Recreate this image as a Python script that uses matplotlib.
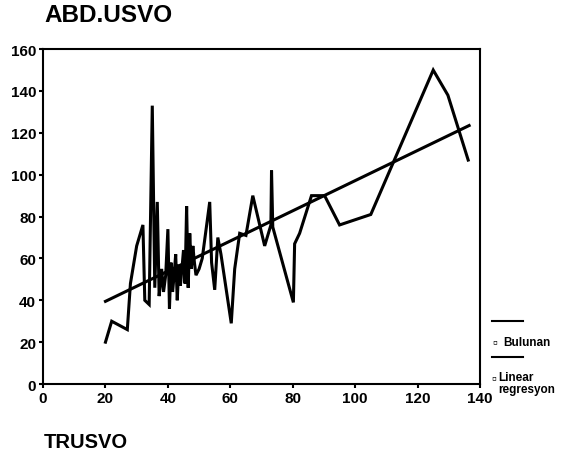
import matplotlib
matplotlib.use("Agg")
import matplotlib.pyplot as plt
from matplotlib.lines import Line2D

plt.rcParams['font.family'] = ['Liberation Sans', 'DejaVu Sans']

# Gözlenen değerler (TRUSVO - ABD.USVO)
trusvo = [20, 22, 27, 28, 30, 32, 32.6, 34, 35, 35.8, 36.6, 37.2, 38, 38.6,
          39.3, 40, 40.5, 41, 41.5, 42, 42.5, 43, 43.5, 44, 44.5, 45, 45.5,
          46, 46.5, 47, 47.5, 48, 48.5, 49, 50, 51, 53.4, 54, 55, 56, 57,
          60.3, 61.4, 63, 65, 67.2, 71, 73, 73.2, 73.6, 80.2, 80.6, 82.2,
          86, 90.2, 95, 105, 125, 129.7, 136.2]
abd_usvo = [20, 30, 26, 48, 66, 76, 40, 38, 133, 46, 87, 42, 55, 44,
            52, 74, 36, 58, 44, 52, 62, 40, 57, 47, 55, 64, 48,
            85, 46, 72, 55, 66, 58, 52, 55, 60, 87, 58, 45, 70, 62,
            29, 55, 72, 71, 90, 66, 76, 102, 75, 39, 67, 72,
            90, 90, 76, 81, 150, 138, 107]

# Doğrusal regresyon çizgisi (uç noktalar)
reg_x = [20, 136.5]
reg_y = [39.5, 123.5]

fig = plt.figure(figsize=(5.87, 4.60), dpi=100)
ax = fig.add_axes([0.0733, 0.163, 0.7445, 0.728])

ax.plot(trusvo, abd_usvo, color="black", linewidth=2.2, solid_joinstyle="miter")
ax.plot(reg_x, reg_y, color="black", linewidth=2.2)

ax.set_xlim(0, 140)
ax.set_ylim(0, 160)
ax.set_xticks(range(0, 141, 20))
ax.set_yticks(range(0, 161, 20))
ax.tick_params(direction="out", length=3, width=1.5, labelsize=11, pad=2)
for lab in ax.get_xticklabels() + ax.get_yticklabels():
    lab.set_fontweight("bold")
for sp in ax.spines.values():
    sp.set_linewidth(1.5)

# Başlıklar
fig.text(0.075, 0.967, "ABD.USVO", fontsize=17.5, fontweight="bold", va="center")
fig.text(0.075, 0.037, "TRUSVO", fontsize=14.5, fontweight="bold", va="center")

# Açıklama kutusu
fig.add_artist(Line2D([0.838, 0.891], [0.300, 0.300], color="black", lw=1.5))
fig.add_artist(Line2D([0.838, 0.891], [0.222, 0.222], color="black", lw=1.5))
fig.text(0.843, 0.255, "\u25ab", fontsize=10, va="center", ha="center")
fig.text(0.857, 0.255, "Bulunan", fontsize=8.5, fontweight="bold", va="center")
fig.text(0.841, 0.178, "\u25ab", fontsize=10, va="center", ha="center")
fig.text(0.848, 0.165, "Linear\nregresyon", fontsize=8.5, fontweight="bold",
         va="center", linespacing=0.95)

fig.savefig("out.png", dpi=100)
